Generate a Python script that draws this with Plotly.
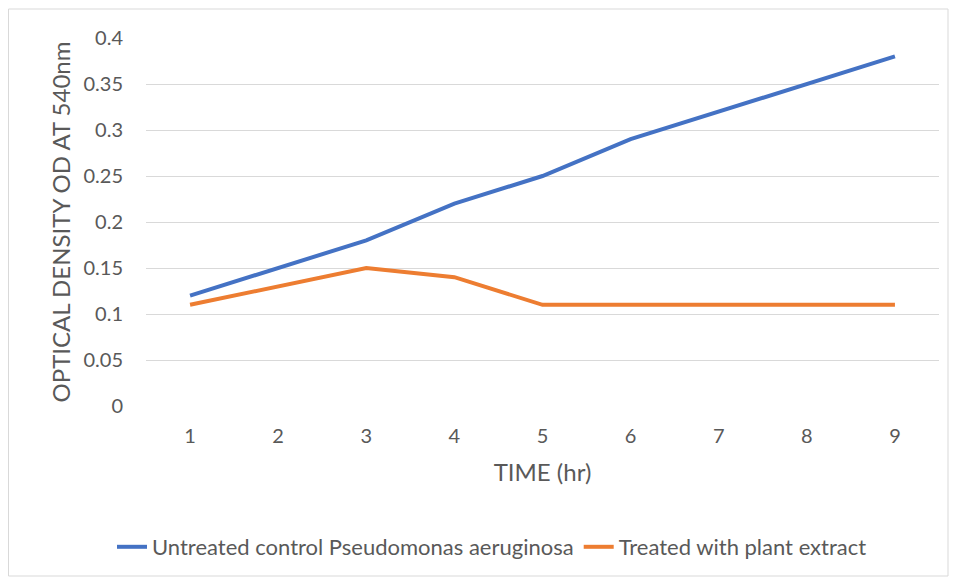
import plotly.graph_objects as go

time_hr = [1, 2, 3, 4, 5, 6, 7, 8, 9]
untreated = [0.12, 0.15, 0.18, 0.22, 0.25, 0.29, 0.32, 0.35, 0.38]
treated = [0.11, 0.13, 0.15, 0.14, 0.11, 0.11, 0.11, 0.11, 0.11]
y_ticks = [0, 0.05, 0.1, 0.15, 0.2, 0.25, 0.3, 0.35, 0.4]
y_tick_labels = ["0", "0.05", "0.1", "0.15", "0.2", "0.25", "0.3", "0.35", "0.4"]

OFF = 8  # page body margin
W, H = 957 - OFF, 581 - OFF
L, R, T, B = 146 - OFF, 18, 38 - OFF, 175
pw, ph = W - L - R, H - T - B

fig = go.Figure()
fig.add_trace(go.Scatter(x=time_hr, y=untreated, mode="lines",
                         name="Untreated control Pseudomonas aeruginosa",
                         line=dict(color="#4472C4", width=4)))
fig.add_trace(go.Scatter(x=time_hr, y=treated, mode="lines",
                         name="Treated with plant extract",
                         line=dict(color="#ED7D31", width=4)))

def px_x(p):
    return (p - OFF - L) / pw

def px_y(p):
    return (H - B - (p - OFF)) / ph

fig.add_shape(type="rect", xref="paper", yref="paper",
              x0=px_x(8.5), x1=px_x(948), y0=px_y(576), y1=px_y(9),
              line=dict(color="#D9D9D9", width=1), fillcolor="rgba(0,0,0,0)", layer="below")

font_fam = "Lato, Open Sans, sans-serif"
fig.update_layout(
    width=W, height=H,
    margin=dict(l=L, r=R, t=T, b=B),
    paper_bgcolor="white", plot_bgcolor="white",
    font=dict(family=font_fam, color="#595959", size=20),
    xaxis=dict(range=[0.5, 9.5], tickvals=time_hr, ticktext=[str(t) for t in time_hr],
               showgrid=False, zeroline=False, showline=False, ticks="",
               ticklabelstandoff=16,
               title=dict(text="TIME (hr)", font=dict(size=24), standoff=18),
               tickfont=dict(size=20)),
    yaxis=dict(range=[0, 0.4], tickvals=y_ticks, ticktext=y_tick_labels,
               showgrid=True, gridcolor="#D9D9D9", gridwidth=1, zeroline=False,
               showline=False, ticks="", ticklen=0, ticklabelstandoff=22,
               title=dict(text="OPTICAL DENSITY OD AT 540nm", font=dict(size=24), standoff=6),
               tickfont=dict(size=20)),
    legend=dict(orientation="h", x=px_x(492), xanchor="center", y=px_y(547), yanchor="middle",
                font=dict(size=22), tracegroupgap=0),
    showlegend=True,
)

fig.write_html("out.html")
